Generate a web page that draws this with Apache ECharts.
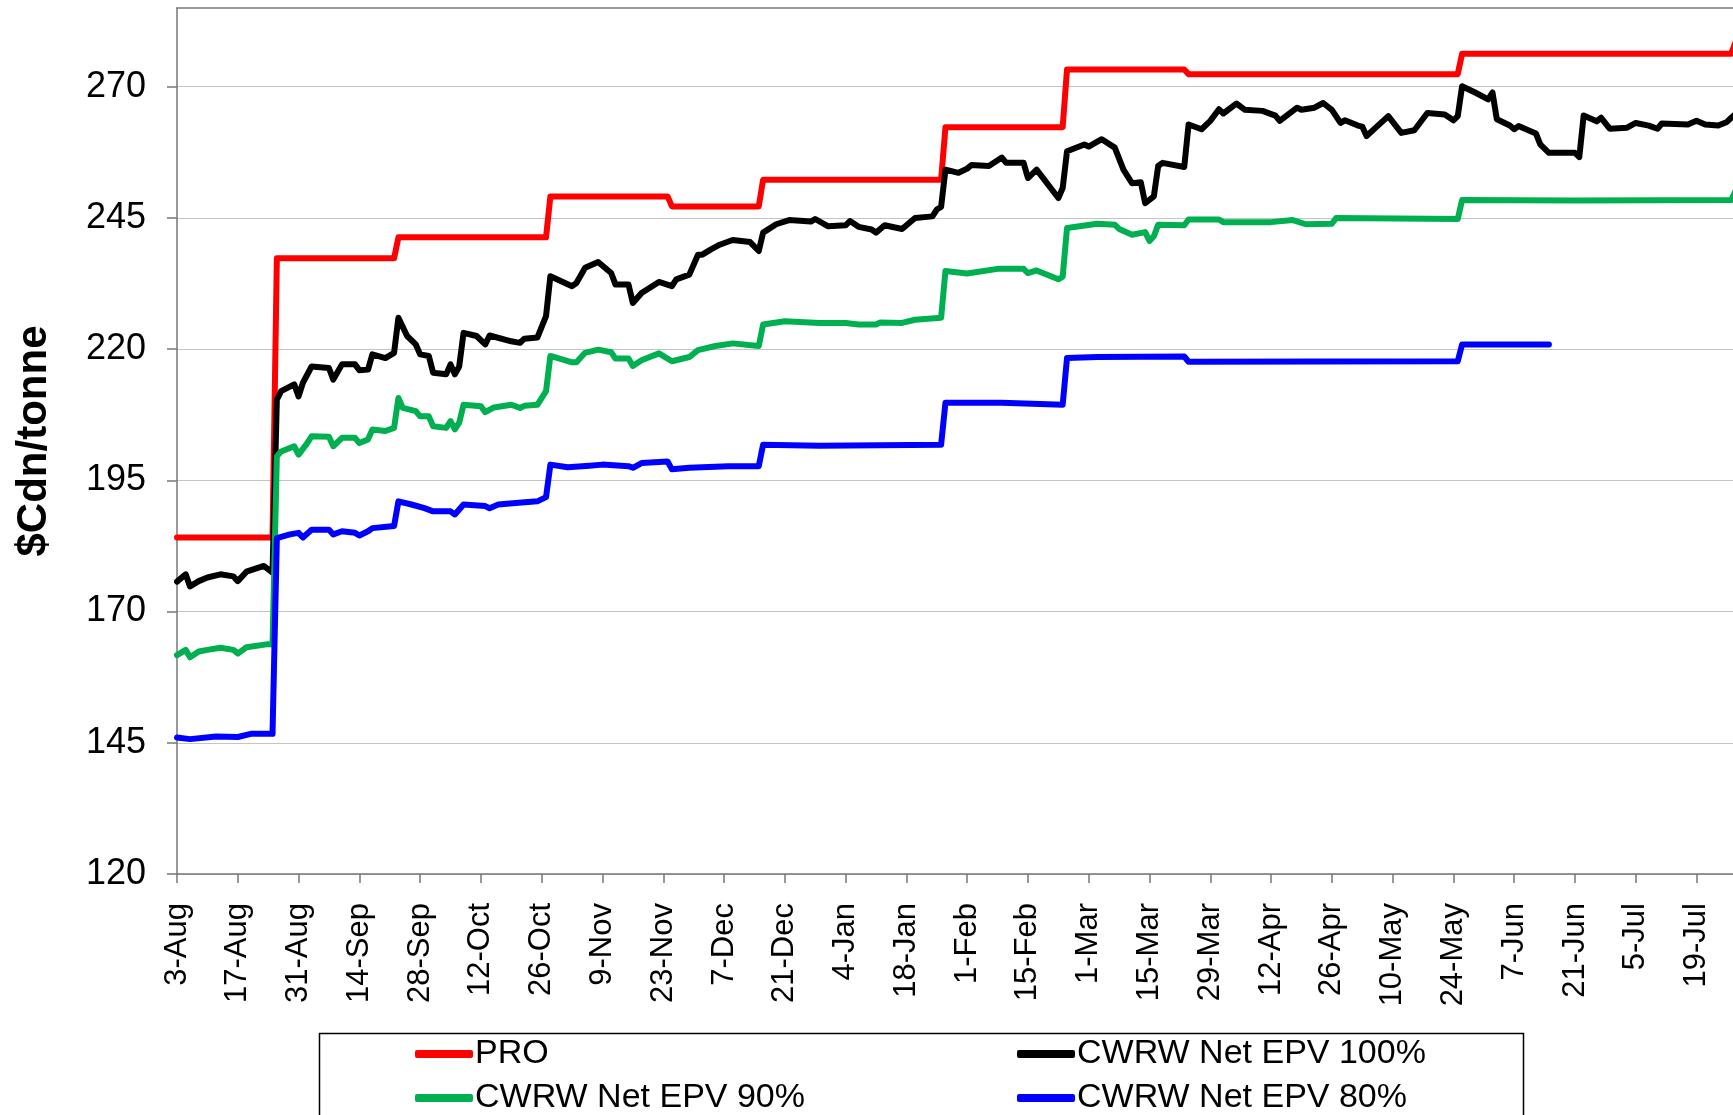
<!DOCTYPE html>
<html>
<head>
<meta charset="utf-8">
<script src="https://cdn.jsdelivr.net/npm/echarts@6/dist/echarts.min.js"></script>
<style>html,body{margin:0;padding:0;background:#fff;}#chart{width:1733px;height:1115px;}</style>
</head>
<body>
<div id="chart"></div>
<script>
// Day offsets counted from 3-Aug
var tickDays = [0,14,28,42,56,70,84,98,112,126,140,154,168,182,196,210,224,238,252,266,280,294,308,322,336,350];
var tickLabels = ['3-Aug','17-Aug','31-Aug','14-Sep','28-Sep','12-Oct','26-Oct','9-Nov','23-Nov','7-Dec','21-Dec','4-Jan','18-Jan','1-Feb','15-Feb','1-Mar','15-Mar','29-Mar','12-Apr','26-Apr','10-May','24-May','7-Jun','21-Jun','5-Jul','19-Jul'];
var yTicks = [120,145,170,195,220,245,270];

var seriesNames = ['PRO','CWRW Net EPV 100%','CWRW Net EPV 90%','CWRW Net EPV 80%'];

var proData = [[0,184.1],[22,184.1],[23,237.3],[50,237.3],[51,241.3],[85,241.3],[86,249.1],[113,249.1],[114,247.2],[134,247.2],[135,252.3],[176,252.3],[177,262.3],[204,262.3],[205,273.3],[232,273.3],[233,272.4],[295,272.4],[296,276.3],[358,276.3],[359,278.5]];

var epv100Data = [[0,175.7],[2,177.1],[3,174.8],[5,175.8],[7,176.5],[10,177.1],[13,176.7],[14,175.8],[16,177.6],[20,178.7],[22,177.4],
[23,210.4],[24,212.0],[27,213.3],[28,211.0],[29,213.6],[31,216.7],[35,216.4],[36,214.2],[38,217.1],[41,217.1],[42,216.0],[44,216.1],[45,219.0],[48,218.3],[50,219.3],[51,226.0],[53,222.5],[55,220.9],[56,219.0],[58,218.7],[59,215.5],[62,215.2],[63,217.1],[64,215.2],[65,216.7],[66,223.1],[69,222.5],[71,220.9],[72,222.6],[77,221.5],[79,221.2],[80,222.0],[83,222.2],[85,226.3],[86,233.9],[91,232.0],[92,232.6],[94,235.5],[97,236.6],[100,234.5],[101,232.3],[104,232.3],[105,228.8],[107,230.7],[111,232.8],[114,232.0],[115,233.3],[118,234.2],[120,238.0],[121,238.0],[123,239.0],[125,239.9],[128,240.8],[132,240.4],[134,238.7],[135,242.2],[138,243.8],[141,244.6],[146,244.3],[147,244.8],[150,243.4],[154,243.6],[155,244.4],[157,243.3],[160,242.8],[161,242.2],[163,243.6],[167,242.9],[170,245.0],[174,245.3],[175,246.6],[176,247.1],[177,254.2],[180,253.6],[182,254.4],[183,255.1],[187,254.9],[190,256.5],[191,255.5],[195,255.5],[196,252.6],[198,254.2],[203,248.8],[204,250.7],[205,257.7],[209,259.0],[210,258.6],[213,260.0],[216,258.4],[218,254.2],[220,251.6],[222,251.8],[223,247.8],[225,249.1],[226,254.9],[227,255.5],[232,254.7],[233,262.8],[236,261.9],[238,263.5],[240,265.7],[241,264.9],[244,266.8],[246,265.6],[250,265.4],[253,264.5],[254,263.5],[258,266.0],[259,265.6],[262,266.0],[264,266.9],[266,265.6],[268,263.1],[269,263.6],[272,262.6],[273,262.4],[274,260.6],[279,264.4],[282,261.2],[285,261.7],[288,265.0],[292,264.7],[294,263.6],[295,264.4],[296,270.1],[299,268.9],[302,267.6],[303,268.9],[304,263.8],[307,262.6],[308,261.9],[309,262.5],[313,261.1],[314,259.0],[316,257.4],[322,257.4],[323,256.6],[324,264.5],[327,263.4],[328,264.1],[330,262.0],[334,262.2],[336,263.1],[339,262.6],[341,262.0],[342,263.0],[348,262.8],[350,263.5],[352,262.8],[355,262.6],[357,263.3],[358,264.1],[359,264.8]];

var epv90Data = [[0,161.7],[2,162.7],[3,161.3],[5,162.4],[7,162.7],[10,163.1],[13,162.7],[14,162.0],[16,163.2],[21,163.8],[22,163.7],
[23,199.6],[24,200.5],[27,201.5],[28,199.9],[30,202.1],[31,203.4],[35,203.3],[36,201.5],[38,203.1],[41,203.1],[42,202.1],[44,202.8],[45,204.7],[48,204.4],[50,205.0],[51,210.7],[52,208.8],[55,208.2],[56,207.2],[58,207.2],[59,205.3],[62,205.0],[63,206.3],[64,204.7],[65,206.0],[66,209.4],[70,209.1],[71,208.0],[73,208.9],[77,209.4],[79,208.8],[80,209.2],[83,209.4],[85,212.0],[86,218.7],[91,217.5],[92,217.5],[94,219.3],[97,219.9],[100,219.4],[101,218.2],[104,218.2],[105,216.8],[107,217.9],[111,219.2],[114,217.7],[118,218.5],[120,219.8],[124,220.6],[128,221.1],[134,220.6],[135,224.7],[140,225.3],[148,225.0],[154,225.0],[157,224.7],[161,224.7],[162,225.1],[167,225.0],[170,225.6],[176,226.0],[177,234.9],[182,234.4],[189,235.3],[195,235.3],[196,234.5],[198,235.0],[203,233.3],[204,233.8],[205,243.1],[212,243.9],[216,243.7],[217,242.9],[220,241.8],[223,242.3],[224,240.6],[225,241.5],[226,243.7],[232,243.6],[233,244.7],[240,244.7],[241,244.2],[252,244.2],[257,244.6],[260,243.8],[266,243.9],[267,245.0],[295,244.8],[296,248.4],[322,248.3],[358,248.4],[359,250.2]];

var epv80Data = [[0,146.0],[3,145.7],[9,146.2],[14,146.1],[17,146.7],[22,146.7],
[23,184.0],[26,184.7],[28,185.0],[29,184.1],[31,185.6],[35,185.6],[36,184.7],[38,185.3],[41,185.0],[42,184.5],[44,185.3],[45,185.9],[50,186.3],[51,191.0],[54,190.4],[57,189.7],[59,189.1],[63,189.1],[64,188.5],[66,190.4],[71,190.1],[72,189.7],[74,190.4],[78,190.7],[83,191.0],[85,191.8],[86,198.0],[90,197.5],[95,197.8],[98,198.0],[104,197.7],[105,197.4],[107,198.3],[113,198.6],[114,197.1],[118,197.4],[127,197.7],[134,197.7],[135,201.8],[148,201.6],[176,201.8],[177,209.8],[190,209.8],[204,209.4],[205,218.3],[212,218.5],[232,218.6],[233,217.6],[295,217.7],[296,220.9],[316,220.9]];

var colors = ['#ff0000','#000000','#00b050','#0000ff'];
var font = 'Liberation Sans, Arial, sans-serif';

var chart = echarts.init(document.getElementById('chart'), null, {renderer:'canvas'});

function mkSeries(i, data) {
  return {
    name: seriesNames[i], type: 'line', data: data, showSymbol: false, symbol: 'none',
    lineStyle: {color: colors[i], width: 6, cap: 'round', join: 'round'},
    itemStyle: {color: colors[i]}, clip: true, z: 2 + i
  };
}

var legendCommon = {
  orient: 'vertical', padding: 0, itemGap: 0, itemWidth: 58, itemHeight: 8, icon: 'roundRect',
  height: 200,
  textStyle: {fontSize: 34, fontFamily: font, color: '#000', lineHeight: 44, padding: [0,0,0,-3]},
  selectedMode: false
};

chart.setOption({
  animation: false,
  backgroundColor: '#fff',
  grid: {left: 177, top: 8, right: 0, bottom: 241, containLabel: false, outerBoundsMode: 'none'},
  xAxis: [{
    type: 'value', min: 0, max: 358.4, interval: 14, position: 'bottom',
    axisLine: {show: true, onZero: false, lineStyle: {color: '#777', width: 1.5}},
    axisTick: {show: true, length: 9, customValues: tickDays, lineStyle: {color: '#777', width: 1.5}},
    axisLabel: {customValues: tickDays, rotate: 90, margin: 29, fontSize: 31, fontFamily: font, color: '#000',
      formatter: function (v) { var k = tickDays.indexOf(Math.round(v)); return k >= 0 ? tickLabels[k] : ''; }},
    splitLine: {show: false}
  }, {
    type: 'value', min: 0, max: 358.4, position: 'top',
    axisLine: {show: true, onZero: false, lineStyle: {color: '#777', width: 1.5}},
    axisTick: {show: false}, axisLabel: {show: false}, splitLine: {show: false}
  }],
  yAxis: {
    type: 'value', min: 120, max: 285, interval: 25,
    name: '$Cdn/tonne', nameLocation: 'middle', nameRotate: 90, nameGap: 122,
    nameTextStyle: {fontSize: 42, fontWeight: 'bold', fontFamily: font, color: '#000'},
    axisLine: {show: true, onZero: false, lineStyle: {color: '#777', width: 1.5}},
    axisTick: {show: true, length: 10, customValues: yTicks, lineStyle: {color: '#777', width: 1.5}},
    axisLabel: {customValues: yTicks, margin: 31, fontSize: 36, fontFamily: font, color: '#000'},
    splitLine: {show: true, lineStyle: {color: '#c4c4c4', width: 1}}
  },
  legend: [
    Object.assign({}, legendCommon, {left: 415, top: 1032, data: [seriesNames[0], seriesNames[2]]}),
    Object.assign({}, legendCommon, {left: 1017, top: 1032, data: [seriesNames[1], seriesNames[3]]})
  ],
  graphic: [{
    type: 'rect', left: 317, top: 1031, z: 0,
    shape: {width: 1204, height: 120},
    style: {fill: 'none', stroke: '#000', lineWidth: 1.5}
  }],
  series: [mkSeries(0, proData), mkSeries(1, epv100Data), mkSeries(2, epv90Data), mkSeries(3, epv80Data)]
});
</script>
</body>
</html>
